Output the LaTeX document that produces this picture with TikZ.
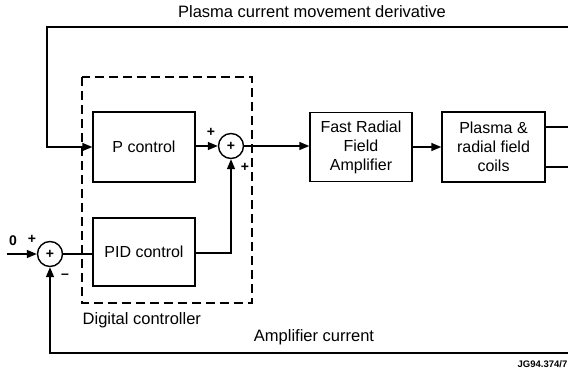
\documentclass[tikz,border=0pt]{standalone}
\usepackage{fontspec}
\setmainfont{Liberation Sans}
\usetikzlibrary{arrows.meta}
\begin{document}
\begin{tikzpicture}[x=1pt,y=-1pt,
  line width=1.4pt,
  tip/.style={-{Triangle[length=10pt,width=8pt]}},
  blk/.style={draw,minimum width=102pt,minimum height=70pt,align=center,inner sep=0pt,font=\fontsize{16}{19}\selectfont},
  sumnode/.style={draw,circle,minimum size=25pt,inner sep=0pt,font=\fontsize{14}{14}\selectfont\bfseries},
  lbl/.style={inner sep=0pt,font=\fontsize{16.5}{19}\selectfont},
  sgn/.style={inner sep=0pt,font=\fontsize{14}{14}\selectfont\bfseries}]
\useasboundingbox (0,0) rectangle (568,374);
% blocks
\node[blk] (p) at (144,147) {P control};
\node[blk,minimum height=68pt] (pid) at (144,252) {PID control};
\node[blk,minimum height=69pt] (fast) at (361,147) {Fast Radial\\Field\\Amplifier};
\node[blk,minimum width=103pt] (pl) at (493.5,147) {Plasma \&\\radial field\\coils};
\node[sumnode] (s1) at (231,146) {+};
\node[sumnode] (s2) at (50,254) {+};
% dashed controller box
\draw[dash pattern=on 9pt off 5pt] (82,77) rectangle (252,303);
% texts
\node[lbl] (title) at (312,12) {Plasma current movement derivative};
\node[lbl,anchor=west] (dc) at (82,320) {Digital controller};
\node[lbl] (ac) at (314,337) {Amplifier current};
\node[inner sep=0pt,anchor=east,font=\fontsize{9.5}{10}\selectfont\bfseries] (jg) at (568,364) {JG94.374/7};
\node[sgn] (pl1) at (211,132) {+};
\node[sgn] (pl2) at (245,167) {+};
\node[sgn] (zero) at (13,241) {0};
\node[sgn] (pl3) at (32,239) {+};
\node[sgn] (mi) at (65,276) {\textendash};
% coordinates
\coordinate (tr) at (568,27);
\coordinate (tl) at (47,27);
\coordinate (br) at (568,353);
\coordinate (in) at (7,254);
\coordinate (o1) at (568,127);
\coordinate (o2) at (568,167);
% connectors
\draw[tip] (tr) -- (tl) |- (p.west);
\draw[tip] (p.east |- s1) -- (s1.west);
\draw[tip] (pid.east |- 0,253) -| (s1.south);
\draw[tip] (s1.east) -- (fast.west |- s1);
\draw[tip] (fast.east) -- (pl.west);
\draw (pl.east |- o1) -- (o1);
\draw (pl.east |- o2) -- (o2);
\draw[tip] (br) -| (s2.south);
\draw[tip] (in) -- (s2.west);
\draw (s2.east) -- (pid.west |- s2);
\end{tikzpicture}
\end{document}
